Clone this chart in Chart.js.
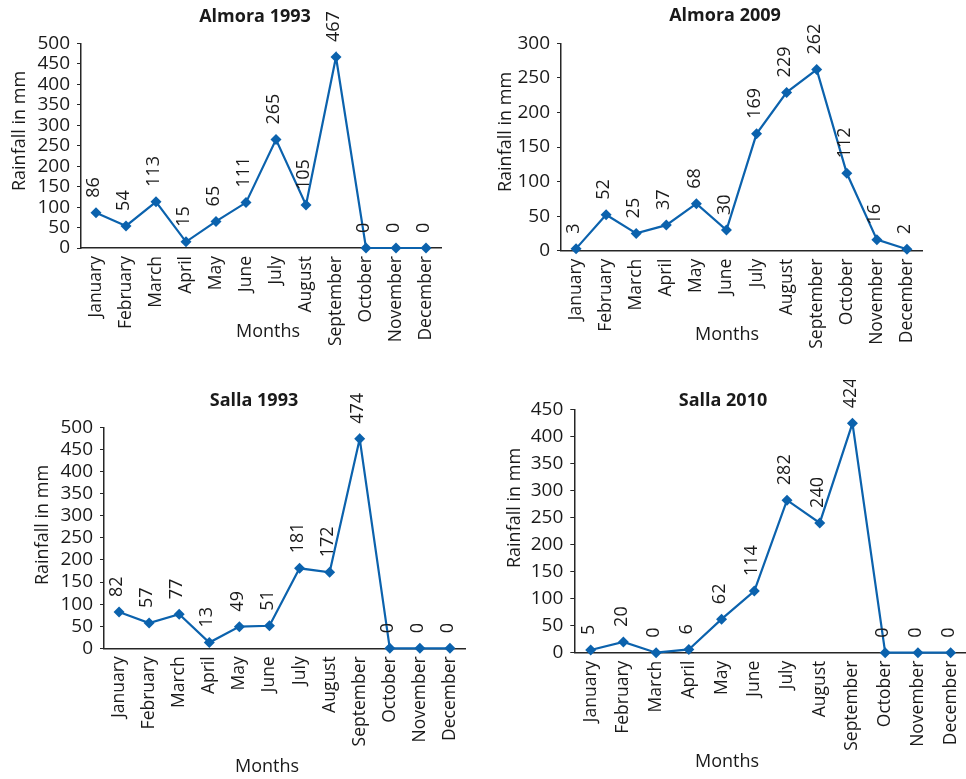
<!DOCTYPE html>
<html>
<head>
<meta charset="utf-8">
<script src="https://cdn.jsdelivr.net/npm/chart.js@4.4.0/dist/chart.umd.min.js"></script>
<style>
  html, body { margin: 0; padding: 0; background: #ffffff; width: 966px; height: 779px; overflow: hidden; position: relative; }
  canvas { position: absolute; }
</style>
</head>
<body>
<canvas id="c1"></canvas>
<canvas id="c2"></canvas>
<canvas id="c3"></canvas>
<canvas id="c4"></canvas>
<script>
// ---- Data ----
const months = ['January','February','March','April','May','June','July','August','September','October','November','December'];
const almora1993 = [86, 54, 113, 15, 65, 111, 265, 105, 467, 0, 0, 0];
const almora2009 = [3, 52, 25, 37, 68, 30, 169, 229, 262, 112, 16, 2];
const salla1993 = [82, 57, 77, 13, 49, 51, 181, 172, 474, 0, 0, 0];
const salla2010 = [5, 20, 0, 6, 62, 114, 282, 240, 424, 0, 0, 0];
const chartTitles = ['Almora 1993', 'Almora 2009', 'Salla 1993', 'Salla 2010'];
const yMaxValues = [500, 300, 500, 450];
const yStep = 50;
const xAxisTitle = 'Months';
const yAxisTitle = 'Rainfall in mm';

// ---- Style / layout ----
const FONT = "'Open Sans', 'Liberation Sans', sans-serif";
const LINE = '#0b62ad';
const TEXT = '#1a1a1a';
const AXIS = '#262626';

const layouts = [
  { id:'c1', x:0,   y:0,   W:480, H:380, left:81,  right:441, top:43.5, bottom:248,   title:[255,17],   ytitle:[20,131],  months:[268,332] },
  { id:'c2', x:480, y:0,   W:486, H:380, left:81,  right:442, top:43.3, bottom:250.7, title:[245,15.5], ytitle:[26,132],  months:[247,335] },
  { id:'c3', x:0,   y:380, W:480, H:399, left:104, right:465, top:47.3, bottom:268.3, title:[254,20.5], ytitle:[43,145],  months:[267,386.5] },
  { id:'c4', x:480, y:380, W:506, H:399, left:94.3,right:487, top:29.3, bottom:272.7, title:[243,20.5], ytitle:[35,128],  months:[247,381.5] }
];
const seriesList = [almora1993, almora2009, salla1993, salla2010];

const extrasPlugin = {
  id: 'extras',
  afterDraw(chart) {
    const o = chart.options.plugins.extras;
    const ctx = chart.ctx;
    ctx.save();
    ctx.fillStyle = TEXT;
    // title
    ctx.font = "bold 18px " + FONT;
    ctx.textAlign = 'center';
    ctx.textBaseline = 'middle';
    ctx.fillText(o.title, o.titlePos[0], o.titlePos[1]);
    // months
    ctx.font = "18px " + FONT;
    ctx.fillText(xAxisTitle, o.monthsPos[0], o.monthsPos[1]);
    // y title
    ctx.save();
    ctx.translate(o.ytitlePos[0], o.ytitlePos[1]);
    ctx.rotate(-Math.PI / 2);
    ctx.font = "18px " + FONT;
    ctx.fillText(yAxisTitle, 0, 0);
    ctx.restore();
    // data labels
    const meta = chart.getDatasetMeta(0);
    const data = chart.data.datasets[0].data;
    ctx.font = "18px " + FONT;
    ctx.textAlign = 'left';
    ctx.textBaseline = 'middle';
    meta.data.forEach((pt, i) => {
      ctx.save();
      ctx.translate(pt.x - 2, pt.y - 15);
      ctx.rotate(-Math.PI / 2);
      ctx.fillText(String(data[i]), 0, 0);
      ctx.restore();
    });
    ctx.restore();
  }
};

layouts.forEach((L, k) => {
  const cv = document.getElementById(L.id);
  cv.width = L.W; cv.height = L.H;
  cv.style.left = L.x + 'px'; cv.style.top = L.y + 'px';
  cv.style.width = L.W + 'px'; cv.style.height = L.H + 'px';
  new Chart(cv, {
    type: 'line',
    data: {
      labels: months,
      datasets: [{
        data: seriesList[k],
        borderColor: LINE,
        backgroundColor: LINE,
        borderWidth: 2.2,
        pointStyle: 'rectRot',
        pointRadius: 5.5,
        pointBorderWidth: 0,
        pointBackgroundColor: LINE,
        tension: 0,
        clip: false
      }]
    },
    options: {
      responsive: false,
      animation: false,
      devicePixelRatio: 1,
      events: [],
      layout: { padding: { left: 0, top: L.top, right: L.W - L.right, bottom: 0 } },
      plugins: {
        legend: { display: false },
        tooltip: { enabled: false },
        title: { display: false },
        extras: { title: chartTitles[k], titlePos: L.title, monthsPos: L.months, ytitlePos: L.ytitle }
      },
      scales: {
        x: {
          offset: true,
          grid: { display: true, drawOnChartArea: false, drawTicks: false },
          border: { display: true, color: AXIS, width: 1.5 },
          ticks: { color: TEXT, font: { family: FONT, size: 17.5 }, minRotation: 90, maxRotation: 90, padding: 8, autoSkip: false },
          afterFit: (s) => { s.height = L.H - L.bottom; }
        },
        y: {
          min: 0,
          max: yMaxValues[k],
          grid: { display: true, drawOnChartArea: false, drawTicks: true, tickLength: 4, color: AXIS },
          border: { display: true, color: AXIS, width: 1.5 },
          ticks: { stepSize: yStep, autoSkip: false, color: TEXT, font: { family: FONT, size: 19 }, padding: 7 },
          afterFit: (s) => { s.width = L.left; }
        }
      }
    },
    plugins: [extrasPlugin]
  });
});
</script>
</body>
</html>
